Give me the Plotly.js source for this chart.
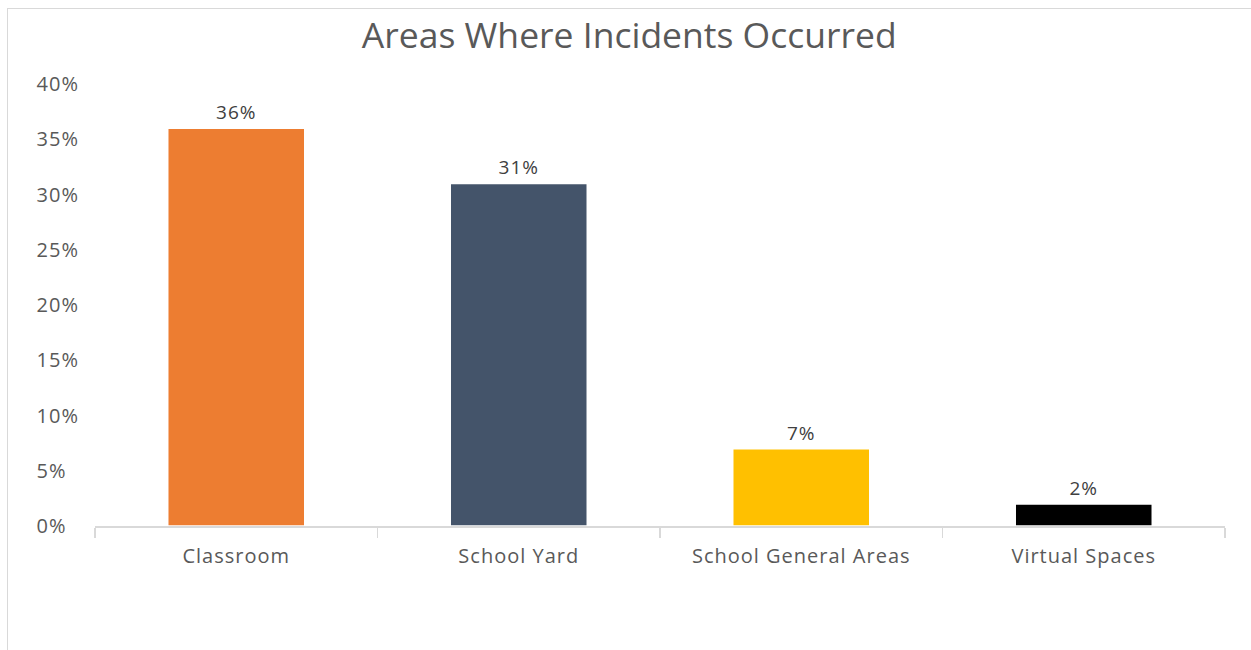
<!DOCTYPE html>
<html>
<head>
<meta charset="utf-8">
<script src="https://cdn.plot.ly/plotly-3.0.1.min.js"></script>
<style>
  html, body { margin: 0; padding: 0; background: #fff; }
  #wrap { position: relative; width: 1251px; height: 650px; }
  #chart { position: absolute; left: 0; top: 0; width: 1251px; height: 650px; }
  #frame { position: absolute; left: 7px; top: 8px; right: 0; bottom: -2px;
           border-top: 1.5px solid #d9d9d9; border-left: 1.5px solid #d9d9d9; pointer-events: none; }
  #chart .xtick text, #chart .ytick text, #chart .bartext { letter-spacing: 1px; }
</style>
</head>
<body>
<div id="wrap">
  <div id="chart"></div>
  <div id="frame"></div>
</div>
<script>
const categories = ["Classroom", "School Yard", "School General Areas", "Virtual Spaces"];
const values = [36, 31, 7, 2];
const barColors = ["#ED7D31", "#44546A", "#FFC000", "#000000"];
const yTickVals = [0, 5, 10, 15, 20, 25, 30, 35, 40];
const yTickText = ["0%\u2007", "5%\u2007", "10%", "15%", "20%", "25%", "30%", "35%", "40%"];

const font = "Open Sans, Noto Sans, sans-serif";

const trace = {
  type: "bar",
  x: categories,
  y: values,
  marker: { color: barColors, line: { color: "#ffffff", width: 1.5 } },
  text: values.map(v => v + "%"),
  textposition: "outside",
  cliponaxis: false,
  textfont: { family: font, size: 19, color: "#404040" },
  hoverinfo: "none"
};

const layout = {
  width: 1251,
  height: 650,
  margin: { l: 95, r: 26, t: 84, b: 124, pad: 0 },
  paper_bgcolor: "#ffffff",
  plot_bgcolor: "#ffffff",
  showlegend: false,
  bargap: 0.515,
  title: {
    text: "Areas Where Incidents Occurred",
    font: { family: font, size: 35.5, color: "#595959" },
    x: 0.503, xanchor: "center",
    y: 0.946, yanchor: "middle"
  },
  xaxis: {
    type: "category",
    showline: true, linecolor: "#d9d9d9", linewidth: 1.5,
    ticks: "outside", tickson: "boundaries", ticklen: 10, tickcolor: "#d9d9d9", tickwidth: 1.5,
    showgrid: false, zeroline: false,
    tickfont: { family: font, size: 20, color: "#595959" },
    ticklabelstandoff: 11
  },
  yaxis: {
    range: [0, 40],
    tickvals: yTickVals,
    ticktext: yTickText,
    showgrid: false, zeroline: false, showline: false,
    ticks: "",
    tickfont: { family: font, size: 20, color: "#595959" },
    ticklabelstandoff: 15
  }
};

Plotly.newPlot("chart", [trace], layout, { displayModeBar: false, staticPlot: true });
</script>
</body>
</html>
